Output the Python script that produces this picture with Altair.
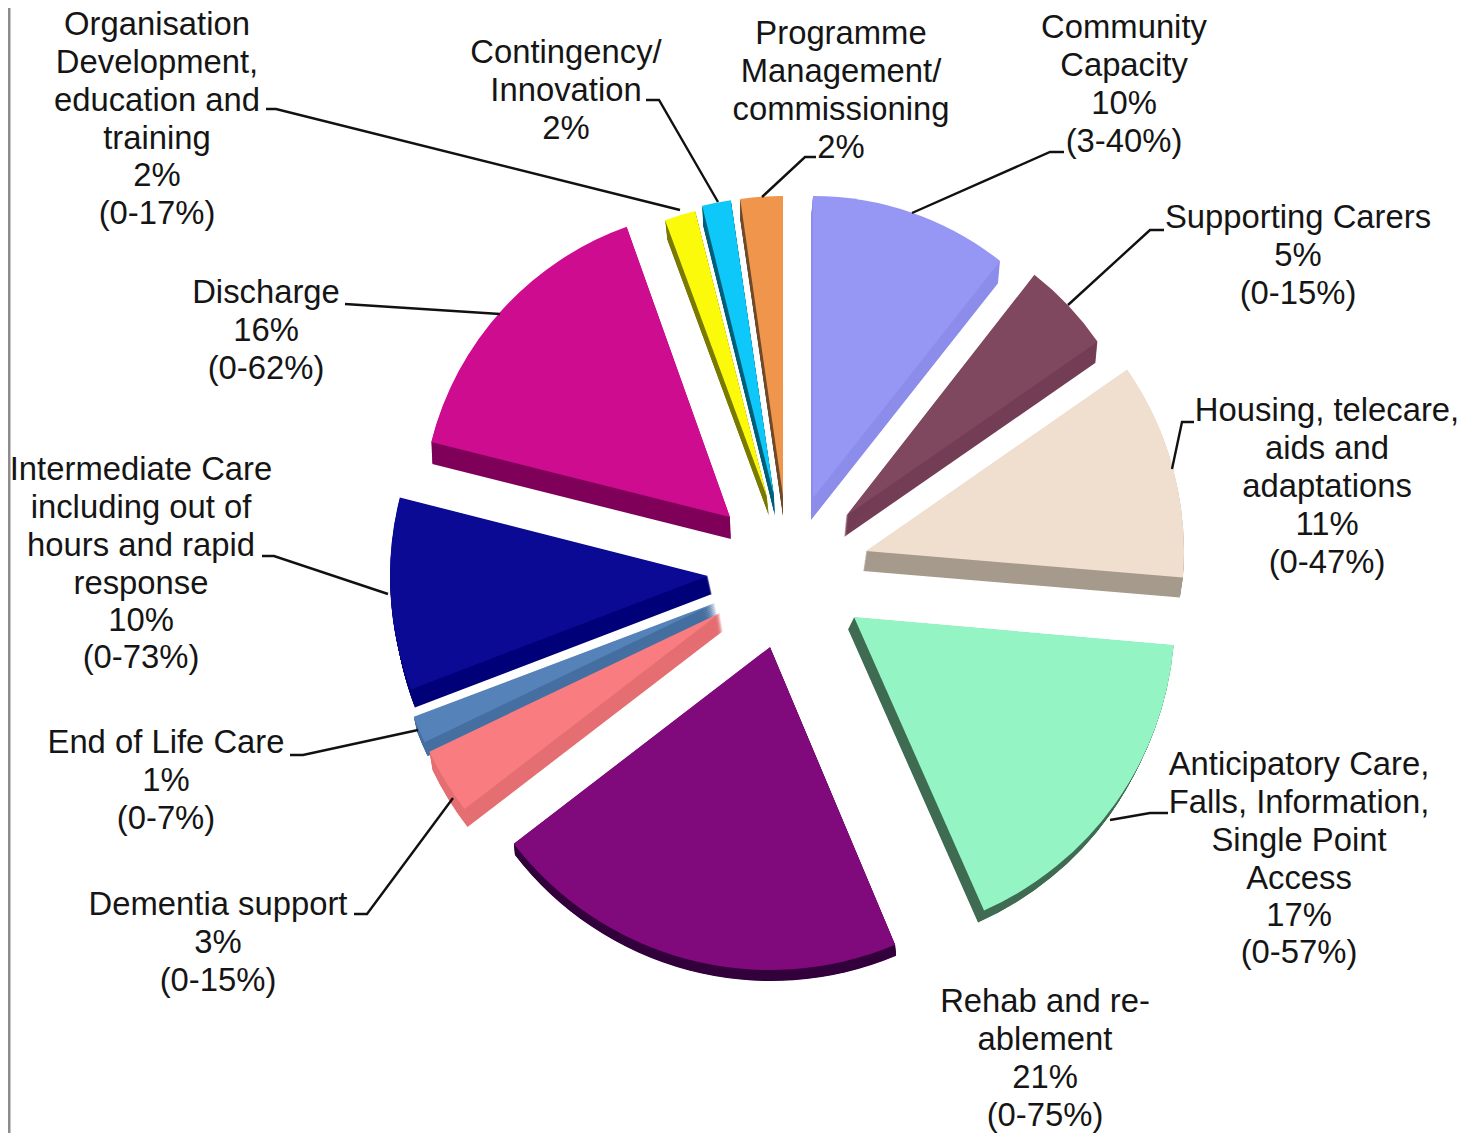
import altair as alt
import pandas as pd

# --- slices (clockwise from 12 o'clock; each slice is pulled out of the pie on its own)
names = ["Community", "Supporting", "Housing", "Anticipatory", "Rehab", "EndOfLife",
         "Dementia", "Intermediate", "Discharge", "Organisation", "Contingency", "Programme"]
start_deg = [0, 38, 55.2, 95, 157.2, 244.4, 232.5, 249.1, 284.1, 339.8, 346.1, 351.8]
end_deg = [38.3, 55.3, 94.8, 156.1, 232.5, 249.3, 244.5, 284.3, 340.4, 345.9, 351.7, 360]
apex_x = [813, 846, 866, 854, 770, 715, 720, 708, 730, 767, 774, 783]
apex_y = [498, 516, 551, 617, 647, 603, 613, 576, 517, 497, 496, 496]
radius = [302, 306, 318, 321, 323, 322, 322, 318, 308, 295, 299, 300]
side_dx = [-2, -2, -3, -6, 1, 3, 3, 4, 1, 2, 1, 0]
side_dy = [22, 21, 20, 12, 11, 14, 18, 18, 22, 19, 20, 20]
top_colour = ["#9696F5", "#80485F", "#F0DFCF", "#94F4C4", "#800A7C", "#5583B9",
              "#F87C80", "#0A0A94", "#CE0C90", "#FAFA0A", "#0EC8FA", "#F0964C"]
side_colour = ["#8C8CEA", "#733D56", "#A59A8C", "#3F6B52", "#32003A", "#456FA0",
               "#E46E72", "#000078", "#7E0058", "#7A7A00", "#005F78", "#6E4A2A"]

# --- labels: centre x, line centres y, text of each line
label_x = [157, 566, 841, 1124, 1298, 1327, 1299, 1045, 218, 166, 141, 266]
label_y = [
    [24, 62, 100, 138, 175, 213], [52, 90, 128], [33, 71, 109, 147], [27, 65, 103, 141],
    [217, 255, 293], [410, 448, 486, 524, 562], [764, 802, 840, 878, 915, 952],
    [1001, 1039, 1077, 1115], [904, 942, 980], [742, 780, 818],
    [469, 507, 545, 583, 620, 657], [292, 330, 368],
]
label_lines = [
    ["Organisation", "Development,", "education and", "training", "2%", "(0-17%)"],
    ["Contingency/", "Innovation", "2%"],
    ["Programme", "Management/", "commissioning", "2%"],
    ["Community", "Capacity", "10%", "(3-40%)"],
    ["Supporting Carers", "5%", "(0-15%)"],
    ["Housing, telecare,", "aids and", "adaptations", "11%", "(0-47%)"],
    ["Anticipatory Care,", "Falls, Information,", "Single Point", "Access", "17%", "(0-57%)"],
    ["Rehab and re-", "ablement", "21%", "(0-75%)"],
    ["Dementia support", "3%", "(0-15%)"],
    ["End of Life Care", "1%", "(0-7%)"],
    ["Intermediate Care", "including out of", "hours and rapid", "response", "10%", "(0-73%)"],
    ["Discharge", "16%", "(0-62%)"],
]

# --- leader lines
leader_xs = [[266, 276, 680], [646, 659, 718], [762, 805, 816], [912, 1050, 1064],
             [1068, 1150, 1164], [1172, 1182, 1194], [1110, 1150, 1168], [453, 367, 354],
             [418, 303, 290], [388, 274, 262], [500, 345]]
leader_ys = [[109, 109, 210], [100, 100, 202], [197, 157, 157], [213, 152, 152],
             [305, 230, 230], [469, 422, 422], [820, 813, 813], [798, 914, 914],
             [730, 755, 755], [594, 556, 556], [314, 304]]

SIDE_STEPS = 24
rows_top, rows_side = [], []
for i, n in enumerate(names):
    base = dict(name=n, a1=start_deg[i], a2=end_deg[i], r=radius[i])
    rows_top.append(dict(base, cx=apex_x[i], cy=apex_y[i], colour=top_colour[i]))
    for k in range(1, SIDE_STEPS + 1):
        f = k / SIDE_STEPS
        rows_side.append(dict(base, cx=apex_x[i] + f * side_dx[i], cy=apex_y[i] + f * side_dy[i],
                              colour=side_colour[i]))

rows_label = [dict(x=x, y=yy, text=t)
              for x, ys, lines in zip(label_x, label_y, label_lines)
              for yy, t in zip(ys, lines)]
rows_leader = [dict(id=i, k=k, x=x, y=y)
               for i, (xs, ys) in enumerate(zip(leader_xs, leader_ys))
               for k, (x, y) in enumerate(zip(xs, ys))]

sx = alt.Scale(domain=[8, 1458], range=[0, 1450], nice=False, zero=False)
sy = alt.Scale(domain=[1133, 8], nice=False, zero=False)
st = alt.Scale(domain=[0, 360], range=[0, 6.283185307])


def wedge(rows):
    return alt.Chart(pd.DataFrame(rows)).mark_arc().encode(
        x=alt.X("cx:Q", scale=sx, axis=None),
        y=alt.Y("cy:Q", scale=sy, axis=None),
        theta=alt.Theta("a1:Q", scale=st, stack=None),
        theta2=alt.Theta2("a2:Q"),
        radius=alt.Radius("r:Q", scale=None),
        color=alt.Color("colour:N", scale=None),
        order=alt.Order("rank:Q"),
    )


for j, row in enumerate(rows_side):
    row["rank"] = j
for j, row in enumerate(rows_top):
    row["rank"] = j

sides = wedge(rows_side)
tops = wedge(rows_top)

leaders = alt.Chart(pd.DataFrame(rows_leader)).mark_line(color="#111111", strokeWidth=2.4).encode(
    x=alt.X("x:Q", scale=sx, axis=None),
    y=alt.Y("y:Q", scale=sy, axis=None),
    detail="id:N",
    order="k:Q",
)

labels = alt.Chart(pd.DataFrame(rows_label)).mark_text(
    font="Liberation Sans", fontSize=32.8, color="#151515", align="center", baseline="middle", dy=1
).encode(
    x=alt.X("x:Q", scale=sx, axis=None),
    y=alt.Y("y:Q", scale=sy, axis=None),
    text="text:N",
)

frame = alt.Chart(pd.DataFrame({"x": [9]})).mark_rule(color="#8C8C8C", strokeWidth=3).encode(
    x=alt.X("x:Q", scale=sx, axis=None),
)

chart = alt.layer(sides, tops, leaders, labels, frame).properties(
    width=1450, height=1125, padding=0, autosize=alt.AutoSizeParams(type="none")
).configure_view(stroke=None)

chart.save("out.html", embed_options={"renderer": "svg", "actions": False})
